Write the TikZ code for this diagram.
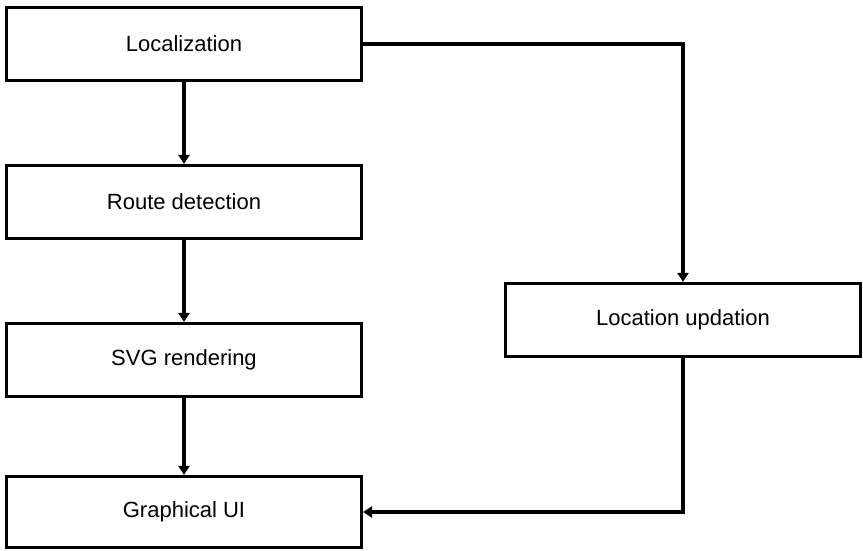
\documentclass[tikz,border=0pt]{standalone}
\usepackage{fontspec}
\setmainfont{Liberation Sans}
\usetikzlibrary{arrows.meta}
\begin{document}
\begin{tikzpicture}[x=1pt,y=-1pt,
  block/.style={draw=black, line width=3.2pt, rectangle, minimum width=355pt,
    minimum height=73pt, inner sep=0pt, fill=white,
    font=\fontsize{22}{26}\selectfont},
  arr/.style={line width=3.2pt, -{Triangle[length=9pt,width=11pt]}}]
  \useasboundingbox (0,0) rectangle (863,551);
  \node[block] (loc) at (184,44) {Localization};
  \node[block] (route) at (184,202) {Route detection};
  \node[block] (svg) at (184,360) {SVG rendering};
  \node[block, minimum height=71pt] (gui) at (184,512) {Graphical UI};
  \node[block] (upd) at (683,320) {Location updation};
  \draw[arr] (loc) -- (route);
  \draw[arr] (route) -- (svg);
  \draw[arr] (svg) -- (gui);
  \draw[arr] (loc.east) -| (upd.north);
  \draw[arr] (upd.south) |- (gui.east);
\end{tikzpicture}
\end{document}
